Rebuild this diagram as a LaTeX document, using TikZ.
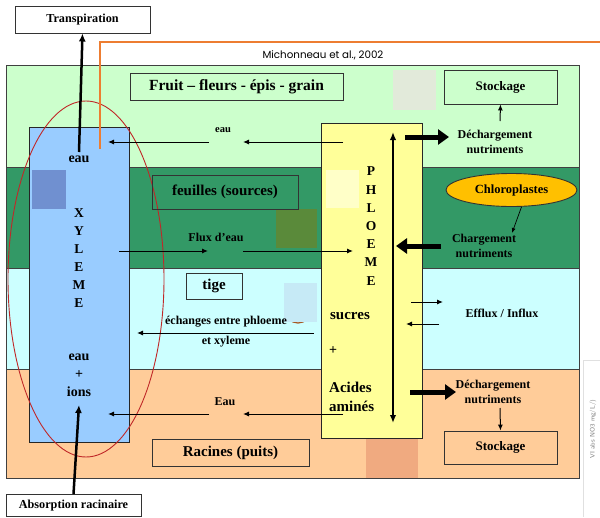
\documentclass[tikz,border=0pt]{standalone}
\usepackage{fontspec}
\setmainfont{Liberation Serif}
\newfontfamily\refsans{Poppins}
\usetikzlibrary{arrows.meta,shapes.geometric}

\definecolor{fruitgreen}{RGB}{204,255,204}
\definecolor{leafgreen}{RGB}{51,153,102}
\definecolor{stemcyan}{RGB}{204,255,255}
\definecolor{rootpeach}{RGB}{255,204,153}
\definecolor{xylemblue}{RGB}{153,204,255}
\definecolor{phloemyellow}{RGB}{255,255,153}
\definecolor{chlorogold}{RGB}{255,192,0}
\definecolor{refline}{RGB}{237,125,49}
\definecolor{sapred}{RGB}{192,40,40}
\definecolor{greypatch}{RGB}{226,234,218}
\definecolor{bluepatch}{RGB}{112,144,208}
\definecolor{olivepatch}{RGB}{90,138,58}
\definecolor{skypatch}{RGB}{198,234,246}
\definecolor{palepatch}{RGB}{255,255,200}
\definecolor{rustpatch}{RGB}{240,170,128}

\begin{document}
\begin{tikzpicture}
    [x=1pt, y=-1pt,
      band/.style={draw=black!75, line width=0.8pt},
      namebox/.style={draw=black!80, line width=0.9pt, inner sep=0pt, align=center},
      word/.style={inner sep=0pt, align=center, font=\bfseries\fontsize{12}{15}\selectfont},
      thin flow/.style={-{Latex[length=6pt,width=5pt]}, line width=1pt},
      thick flow/.style={-{Triangle[length=11pt,width=15pt]}, line width=5pt}]
    \useasboundingbox (0,0) rectangle (600,517);

    % bands
    \draw[band, fill=fruitgreen] (6,65) rectangle (579,167);
    \draw[band, fill=leafgreen] (6,167) rectangle (579,268);
    \draw[band, fill=stemcyan] (6,268) rectangle (579,369);
    \draw[band, fill=rootpeach] (6,369) rectangle (579,478);
    \fill[greypatch] (393,70) rectangle (436,110);
    \fill[olivepatch] (276,209) rectangle (317,248);
    \draw[refline!70!black, line width=1.2pt] (298,310) circle (13);
    \fill[skypatch] (284,283) rectangle (317,322);
    \fill[rustpatch] (366,438.5) rectangle (418,477.5);

    % vessels
    \draw[black!85, line width=0.8pt, fill=xylemblue] (29,127) rectangle (129,442);
    \fill[bluepatch] (32,170) rectangle (66,209);
    \draw[black!85, line width=0.8pt, fill=phloemyellow] (321,123) rectangle (422,438);
    \fill[palepatch] (326,170) rectangle (359,208);
    \draw[sapred, line width=0.9pt] (86,279) ellipse [x radius=78, y radius=178];

    % source
    \draw[refline, line width=2.5pt] (100,149) -- (100,42) -- (600,42);
    \node[inner sep=0pt, font=\refsans\fontsize{10.3}{12}\selectfont] (source) at (323,55) {Michonneau et al., 2002};

    % boxes
    \node[namebox, fill=white, minimum width=135pt, minimum height=27pt, font=\bfseries\fontsize{12.2}{14}\selectfont] (transp) at (82.5,19.5) {Transpiration};
    \node[namebox, fill=white, minimum width=135pt, minimum height=22pt, font=\bfseries\fontsize{12.2}{14}\selectfont] (absorb) at (73.5,505.5) {Absorption racinaire};
    \node[namebox, minimum width=213pt, minimum height=27pt, font=\bfseries\fontsize{15.5}{17}\selectfont] (fruit) at (236.5,86.5) {Fruit -- fleurs - épis - grain};
    \node[namebox, minimum width=146pt, minimum height=34pt, font=\bfseries\fontsize{15}{17}\selectfont] (leaves) at (225,192) {feuilles (sources)};
    \node[namebox, minimum width=56pt, minimum height=26pt, font=\bfseries\fontsize{15}{17}\selectfont] (stem) at (214,286) {tige};
    \node[namebox, minimum width=157pt, minimum height=27pt, font=\bfseries\fontsize{15}{17}\selectfont] (roots) at (230.5,452.5) {Racines (puits)};
    \node[namebox, minimum width=113pt, minimum height=34pt, font=\bfseries\fontsize{13}{15}\selectfont] (storetop) at (500.5,87) {Stockage};
    \node[namebox, minimum width=113pt, minimum height=33pt, font=\bfseries\fontsize{13}{15}\selectfont] (storebot) at (500.5,447.5) {Stockage};
    \node[ellipse, draw=black!80, line width=0.9pt, fill=chlorogold, minimum width=131pt, minimum height=33pt, inner sep=0pt, font=\bfseries\fontsize{12.5}{14}\selectfont] (chloro) at (511.5,190) {Chloroplastes};

    % texts
    \node[word, font=\bfseries\fontsize{14}{18}\selectfont] (xtop) at (79,159) {eau};
    \node[word, font=\bfseries\fontsize{13.5}{18}\selectfont] (xylem) at (79,258) {X\\Y\\L\\E\\M\\E};
    \node[word, font=\bfseries\fontsize{14}{18}\selectfont] (ions) at (79,375) {eau\\+\\ions};
    \node[word, font=\bfseries\fontsize{13.5}{18.2}\selectfont] (phloem) at (371,226) {P\\H\\L\\O\\E\\M\\E};
    \node[word, font=\bfseries\fontsize{15}{18}\selectfont] (sugar) at (350,316) {sucres};
    \node[word, font=\bfseries\fontsize{14}{18}\selectfont] (plus) at (333,351) {+};
    \node[word, align=left, anchor=west, font=\bfseries\fontsize{15}{19}\selectfont] (amino) at (329,397) {Acides\\aminés};
    \node[word] (unloadtop) at (495,142) {Déchargement\\nutriments};
    \node[word] (load) at (484,246) {Chargement\\nutriments};
    \node[word] (unloadbot) at (493,392) {Déchargement\\nutriments};
    \node[word] (efflux) at (502,313) {Efflux / Influx};
    \node[word, font=\bfseries\fontsize{10.5}{12}\selectfont] (eautop) at (223,130) {eau};
    \node[word] (flux) at (216,237) {Flux d’eau};
    \node[word, font=\bfseries\fontsize{12}{20}\selectfont] (exchange) at (226,332) {échanges entre phloeme\\et xyleme};
    \node[word] (eaubot) at (225,402) {Eau};
    \node[inner sep=0pt, rotate=90, text=black!50, font=\sffamily\fontsize{6.5}{8}\selectfont] (axis) at (593,429) {VI abs NO3 mg/L/)};
    \draw[black!12] (583,517) -- (583,360) -- (600,360);

    % flows
    \coordinate (xa) at (79,152);  \coordinate (xb) at (79,405);
    \coordinate (ea1) at (343,142); \coordinate (ea2) at (243,142);
    \coordinate (ea3) at (209,142); \coordinate (ea4) at (108,142);
    \coordinate (fa1) at (119,251); \coordinate (fa2) at (208,251);
    \coordinate (fa3) at (243,251); \coordinate (fa4) at (353,251);
    \coordinate (ex1) at (137,333); \coordinate (ex2) at (314,333);
    \coordinate (eb1) at (343,414); \coordinate (eb2) at (243,414);
    \coordinate (eb3) at (209,414); \coordinate (eb4) at (108,414);
    \coordinate (pa) at (393,132); \coordinate (pb) at (393,423);
    \coordinate (ef1) at (411,302); \coordinate (ef2) at (443,302);
    \coordinate (if1) at (439,324); \coordinate (if2) at (406,324);
    \coordinate (ut1) at (405,137); \coordinate (ut2) at (449,137);
    \coordinate (ld1) at (441,246); \coordinate (ld2) at (396,246);
    \coordinate (ub1) at (410,392); \coordinate (ub2) at (456,392);
    \coordinate (st1) at (500,121); \coordinate (sb1) at (500,408);
    \coordinate (ch2) at (512,233);

    \draw[-{Latex[length=8pt,width=7pt]}, line width=2.5pt] (xa) -- (transp.south);
    \draw[-{Latex[length=8pt,width=7pt]}, line width=2.5pt] (absorb.north) -- (xb);
    \draw[thin flow] (ea1) -- (ea2);
    \draw[thin flow] (ea3) -- (ea4);
    \draw[thin flow] (fa1) -- (fa2);
    \draw[thin flow] (fa3) -- (fa4);
    \draw[thin flow, {Latex[length=6pt,width=5pt]}-] (ex1) -- (ex2);
    \draw[thin flow] (eb1) -- (eb2);
    \draw[thin flow] (eb3) -- (eb4);
    \draw[{Latex[length=8pt,width=6.5pt]}-{Latex[length=8pt,width=6.5pt]}, line width=1.8pt] (pa) -- (pb);
    \draw[thin flow] (ef1) -- (ef2);
    \draw[thin flow] (if1) -- (if2);
    \draw[thick flow] (ut1) -- (ut2);
    \draw[thick flow] (ld1) -- (ld2);
    \draw[thick flow] (ub1) -- (ub2);
    \draw[thin flow] (st1) -- (storetop.south);
    \draw[thin flow] (sb1) -- (storebot.north);
    \draw[-{Latex[length=5pt,width=4pt]}, line width=0.7pt] (chloro.south) ++(10,0) -- (ch2);
  \end{tikzpicture}
\end{document}
